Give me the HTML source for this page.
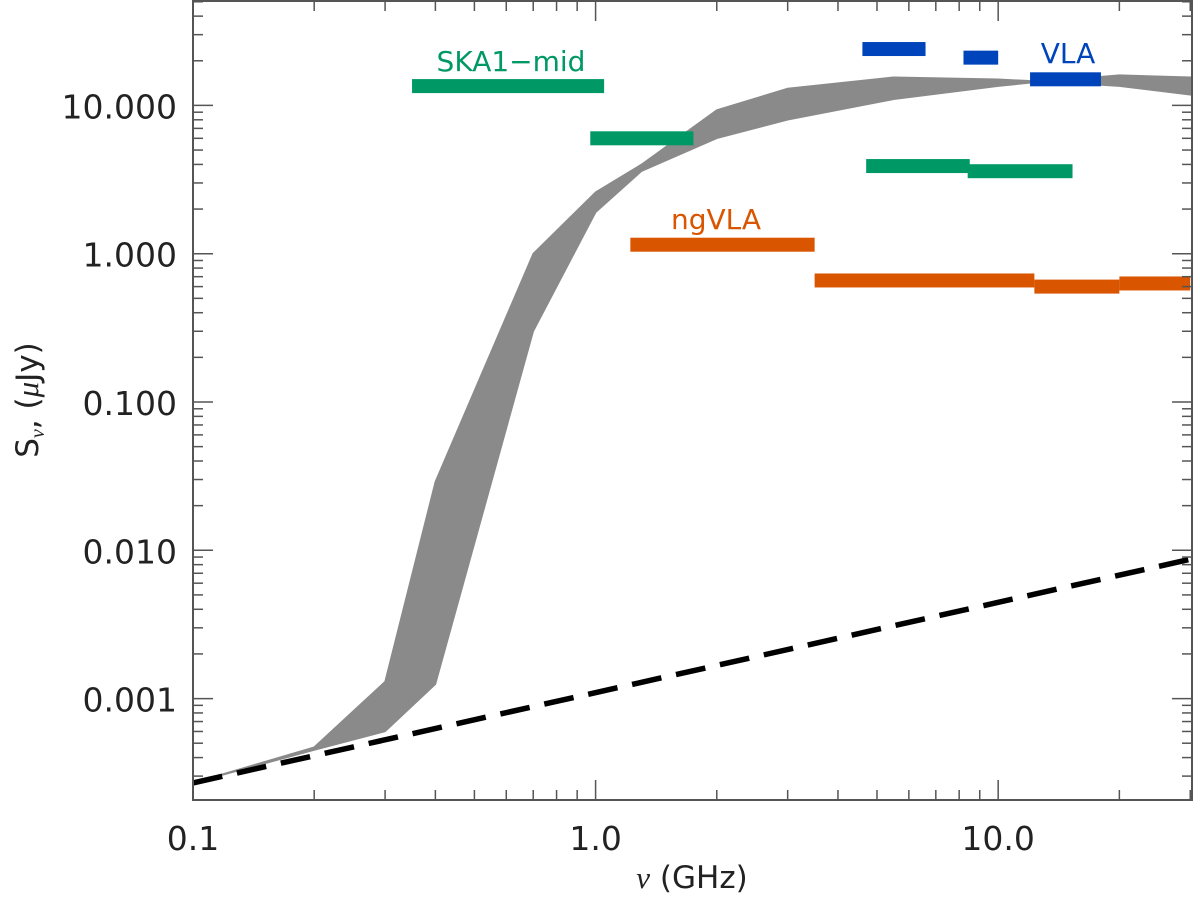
<!DOCTYPE html>
<html><head><meta charset="utf-8"><style>
html,body{margin:0;padding:0;background:#fff;}
svg{display:block;font-family:"DejaVu Sans","Liberation Sans",sans-serif;}
</style></head><body>
<svg id="chart" width="1200" height="903" viewBox="0 0 1200 903" xmlns="http://www.w3.org/2000/svg"></svg>
<script>
const xTicks=[0.1,1.0,10.0];
const xTickLabels=["0.1","1.0","10.0"];
const yTicks=[0.001,0.01,0.1,1,10];
const yTickLabels=["0.001","0.010","0.100","1.000","10.000"];
const bandFreq=[0.1,0.2,0.3,0.4,0.7,1.0,1.3,2.0,3.0,5.5,10,13,20,30];
const bandUpper=[2.7e-4,4.7e-4,1.3e-3,0.029,1.0,2.6,4.0,9.3,13,15.5,15,14.5,16,15.5];
const bandLower=[2.7e-4,4.5e-4,6e-4,1.25e-3,0.3,1.9,3.6,6,8,11,13.5,14.5,13.5,11.8];
const dashFreq=[0.1,30];
const dashFlux=[2.7e-4,8.7e-3];
const skaLo=[0.35,0.97,4.7,8.4];
const skaHi=[1.05,1.75,8.5,15.3];
const skaFlux=[13.5,6.0,3.9,3.6];
const ngLo=[1.22,3.5,12.3,20];
const ngHi=[3.5,12.3,20,30];
const ngFlux=[1.15,0.66,0.6,0.63];
const vlaLo=[4.6,8.2,12];
const vlaHi=[6.6,10,18];
const vlaFlux=[24,21,15];

const L=193,R=1192,T=1,B=800;
const xmin=0.1,xmax=30.3,ymin=2.07e-4,ymax=50.6;
const sx=v=>L+(Math.log10(v)-Math.log10(xmin))/(Math.log10(xmax)-Math.log10(xmin))*(R-L);
const sy=v=>B-(Math.log10(v)-Math.log10(ymin))/(Math.log10(ymax)-Math.log10(ymin))*(B-T);
const svg=document.getElementById('chart');
const NS="http://www.w3.org/2000/svg";
function mk(tag,attrs,parent){const e=document.createElementNS(NS,tag);for(const k in attrs)e.setAttribute(k,attrs[k]);(parent||svg).appendChild(e);return e;}

let pts=bandFreq.map((f,i)=>sx(f)+","+sy(bandUpper[i]));
for(let i=bandFreq.length-1;i>=0;i--)pts.push(sx(bandFreq[i])+","+sy(bandLower[i]));
const band=mk('polygon',{points:pts.join(" "),fill:"#8a8a8a",stroke:"#8a8a8a","stroke-width":1.5});



const dl=mk('line',{x1:sx(dashFreq[0]),y1:sy(dashFlux[0]),x2:sx(dashFreq[1]),y2:sy(dashFlux[1]),stroke:"#000","stroke-width":5.5,"stroke-dasharray":"30,15"});



function bars(lo,hi,fl,color,name){
  for(let i=0;i<lo.length;i++){
    const r=mk('rect',{x:sx(lo[i]),y:sy(fl[i])-7,width:sx(hi[i])-sx(lo[i]),height:14,fill:color});
    
    
  }
}
bars(skaLo,skaHi,skaFlux,"#009966","ska1-mid");
bars(ngLo,ngHi,ngFlux,"#d95500","ngvla");
bars(vlaLo,vlaHi,vlaFlux,"#0044bb","vla");

function lbl(x,y,t,c,name){const e=mk('text',{x:x,y:y,fill:c,"font-size":28,"text-anchor":"middle"});e.textContent=t;

}
lbl(511,71,"SKA1\u2212mid","#009966","ska1-mid-label");
lbl(716,229,"ngVLA","#d95500","ngvla-label");
lbl(1068,63,"VLA","#0044bb","vla-label");

const fr=mk('rect',{x:L,y:T,width:R-L,height:B-T,fill:"none",stroke:"#555","stroke-width":2});



for(let d=-1;d<=1;d++){for(let m=1;m<=9;m++){const v=m*Math.pow(10,d);if(v>xmax)continue;const x=sx(v);const len=m===1?20:10;
mk('line',{x1:x,y1:B,x2:x,y2:B-len,stroke:"#555","stroke-width":1.5});
mk('line',{x1:x,y1:T,x2:x,y2:T+len,stroke:"#555","stroke-width":1.5});}}
xTicks.forEach((v,i)=>{const e=mk('text',{x:sx(v),y:850,"font-size":33,"text-anchor":"middle",fill:"#222"});e.textContent=xTickLabels[i];

});
for(let d=-4;d<=1;d++){for(let m=1;m<=9;m++){const v=m*Math.pow(10,d);if(v<ymin||v>ymax)continue;const y=sy(v);const len=m===1?20:10;
mk('line',{x1:L,y1:y,x2:L+len,y2:y,stroke:"#555","stroke-width":1.5});
mk('line',{x1:R,y1:y,x2:R-len,y2:y,stroke:"#555","stroke-width":1.5});}}
yTicks.forEach((v,i)=>{const e=mk('text',{x:177,y:sy(v)+13,"font-size":33,"text-anchor":"end",fill:"#222"});e.textContent=yTickLabels[i];

});

const xt=mk('text',{x:692,y:888,"font-size":31,"text-anchor":"middle",fill:"#222"});
xt.innerHTML='<tspan font-style="italic" font-family="Liberation Serif, serif">\u03bd</tspan> (GHz)';


const yt=mk('text',{x:0,y:0,"font-size":31,"text-anchor":"middle",fill:"#222",transform:"translate(38,400) rotate(-90)"});
yt.innerHTML='S<tspan font-size="20" dy="6" font-style="italic" font-family="Liberation Serif, serif">\u03bd</tspan><tspan dy="-6">, (</tspan><tspan font-style="italic" font-family="Liberation Serif, serif">\u03bc</tspan>Jy)';


</script>
</body></html>
